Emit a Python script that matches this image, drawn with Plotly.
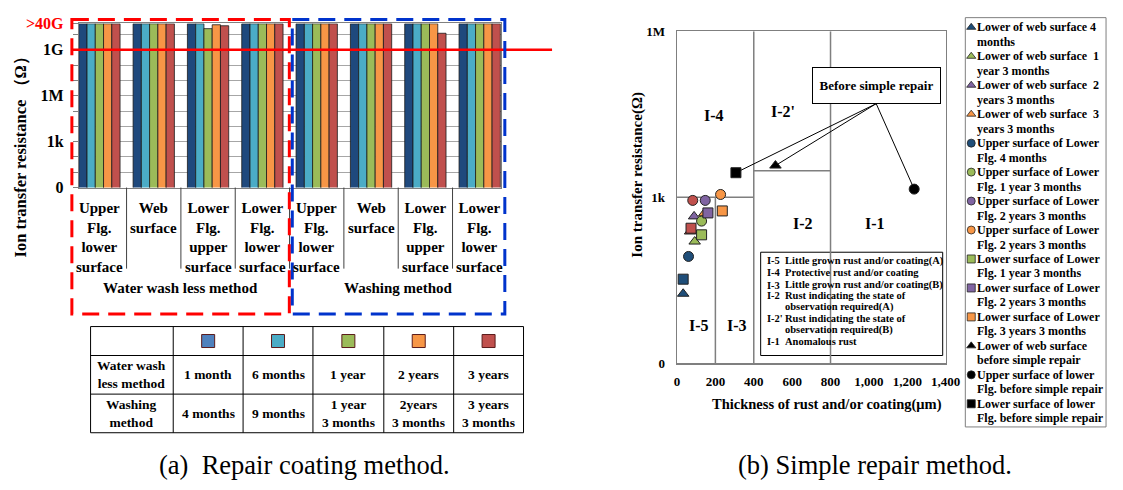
import plotly.graph_objects as go

# page-pixel layout helpers (figure pinned at the top-left of the 1123x490 page)
OX, OY = 0, 0
FW, FH = 1123, 490
SERIF = "Liberation Serif"


def fx(p):
    return min(max((p - OX) / FW, 0), 1)


def fy(p):
    return min(max(1 - (p - OY) / FH, 0), 1)


# ================= (a) Repair coating method =================
surfaces = ["Upper<br>Flg.<br>lower<br>surface", "Web<br>surface",
            "Lower<br>Flg.<br>upper<br>surface", "Lower<br>Flg.<br>lower<br>surface"]
methods = ["Water wash less method", "Washing method"]
group_labels = surfaces + surfaces
periods_wwl = ["1 month", "6 months", "1 year", "2 years", "3 years"]
periods_wash = ["4 months", "9 months", "1 year<br>3 months", "2years<br>3 months", "3 years<br>3 months"]
bar_colors = ["#1F497D", "#4BACC6", "#9BBB59", "#F79646", "#C0504D"]
swatch_colors = ["#4F81BD", "#4BACC6", "#9BBB59", "#F79646", "#C0504D"]
# Ion transfer resistance (ohm); 5e10 stands for ">40G" (off scale)
res_period1 = [5e10, 5e10, 5e10, 5e10, 5e10, 5e10, 5e10, 5e10]
res_period2 = [5e10, 5e10, 5e10, 5e10, 5e10, 5e10, 5e10, 5e10]
res_period3 = [5e10, 5e10, 2.4e10, 5e10, 5e10, 5e10, 5e10, 5e10]
res_period4 = [5e10, 5e10, 4.3e10, 5e10, 5e10, 5e10, 5e10, 5e10]
res_period5 = [5e10, 5e10, 3.7e10, 5e10, 5e10, 5e10, 1.2e10, 5e10]
res_by_period = [res_period1, res_period2, res_period3, res_period4, res_period5]
ytick_vals_a = [1, 1e1, 1e2, 1e3, 1e4, 1e5, 1e6, 1e7, 1e8, 1e9, 1e10, 10 ** 10.72]
ytick_text_a = ["0", "", "", "1k", "", "", "1M", "", "", "1G", "",
                '<span style="color:#FF0000">>40G</span>']
limit_line = 1e9

# ================= (b) Simple repair method =================
series_names = [
    "Lower of web surface 4<br>months",
    "Lower of web surface  1<br>year 3 months",
    "Lower of web surface  2<br>years 3 months",
    "Lower of web surface  3<br>years 3 months",
    "Upper surface of Lower<br>Flg. 4 months",
    "Upper surface of Lower<br>Flg. 1 year 3 months",
    "Upper surface of Lower<br>Flg. 2 years 3 months",
    "Upper surface of Lower<br>Flg. 2 years 3 months",
    "Lower surface of Lower<br>Flg. 1 year 3 months",
    "Lower surface of Lower<br>Flg. 2 years 3 months",
    "Lower surface of Lower<br>Flg. 3 years 3 months",
    "Lower of web surface<br>before simple repair",
    "Upper surface of lower<br>Flg. before simple repair",
    "Lower surface of lower<br>Flg. before simple repair",
]
series_symbols = ["triangle-up"] * 4 + ["circle"] * 4 + ["square"] * 3 + ["triangle-up", "circle", "square"]
series_colors = ["#1F4E79", "#9BBB59", "#8064A2", "#F79646",
                 "#1F4E79", "#9BBB59", "#8064A2", "#F79646",
                 "#9BBB59", "#8064A2", "#F79646",
                 "#000000", "#000000", "#000000"]
thickness = [32, 92, 89, 142, 60, 128, 147, 227, 128, 161, 236, 513, 1236, 307]      # um
resistance = [18, 158, 450, 510, 85, 370, 875, 1120, 209, 520, 565, 3730, 1400, 2770]  # ohm
# additional plotted points not listed in the legend
extra_symbols = ["triangle-up", "circle", "square", "square"]
extra_colors = ["#C0504D", "#C0504D", "#C0504D", "#1F4E79"]
extra_thickness = [68, 82, 73, 32]
extra_resistance = [240, 875, 275, 33]
before_repair_idx = [11, 12, 13]

# classification boundaries
v_lines = [(200, 1, 1000), (400, 1, 1e6), (800, 1, 1e6)]
h_lines = [(1000, 0, 400), (3000, 400, 800)]
zone_names = ["I-4", "I-2'", "I-2", "I-1", "I-5", "I-3"]
zone_x = [195, 554, 656, 1031, 113, 313]
zone_logy = [4.47, 4.55, 2.53, 2.53, 0.68, 0.68]
key_codes = ["I-5", "I-4", "I-3", "I-2", "", "I-2'", "", "I-1"]
key_texts = ["Little grown rust and/or coating(A)", "Protective rust and/or coating",
             "Little grown rust and/or coating(B)", "Rust indicating the state of",
             "observation required(A)", "Rust indicating the state of",
             "observation required(B)", "Anomalous rust"]

fig = go.Figure()

# ---- bars
for k in range(5):
    fig.add_trace(go.Bar(
        x=list(range(len(group_labels))), y=res_by_period[k],
        name=periods_wwl[k], marker=dict(color=bar_colors[k], line=dict(color="#1a1a1a", width=0.8)),
        xaxis="x", yaxis="y", showlegend=False))

# ---- scatter
for i in range(len(series_names)):
    fig.add_trace(go.Scatter(
        x=[thickness[i]], y=[resistance[i]], mode="markers", name=series_names[i],
        marker=dict(symbol=series_symbols[i], color=series_colors[i], size=10,
                    line=dict(color="#222222", width=1)),
        xaxis="x2", yaxis="y2", showlegend=False))
for j in range(len(extra_symbols)):
    fig.add_trace(go.Scatter(
        x=[extra_thickness[j]], y=[extra_resistance[j]], mode="markers",
        marker=dict(symbol=extra_symbols[j], color=extra_colors[j], size=10,
                    line=dict(color="#222222", width=1)),
        xaxis="x2", yaxis="y2", showlegend=False))

# ---- manual legend symbols (aux page-pixel axis)
leg_y = [20 + 30 * i for i in range(len(series_names))]
fig.add_trace(go.Scatter(
    x=[984] * len(series_names), y=leg_y, mode="markers",
    marker=dict(symbol=series_symbols, color=series_colors, size=8,
                line=dict(color="#222222", width=0.8)),
    xaxis="x3", yaxis="y3", showlegend=False, hoverinfo="skip"))

# ---- table swatches
tab_cols = [89, 173, 244, 315, 387, 458, 529]
tab_rows = [330, 360, 400, 440]
fig.add_trace(go.Scatter(
    x=[(tab_cols[j + 1] + tab_cols[j + 2]) / 2 for j in range(5)], y=[345] * 5, mode="markers",
    marker=dict(symbol="square", color=swatch_colors, size=13, line=dict(color="#5a1a1a", width=1)),
    xaxis="x3", yaxis="y3", showlegend=False, hoverinfo="skip"))

shapes = []
ann = []


def txt(x, y, text, size, bold=True, xanchor="center", yanchor="middle", **kw):
    d = dict(x=fx(x), y=fy(y), xref="paper", yref="paper", text=text, showarrow=False,
             xanchor=xanchor, yanchor=yanchor,
             font=dict(family=SERIF, size=size, weight="bold" if bold else "normal", color="black"))
    d.update(kw)
    return d


# ---- (a) decorations
for i in range(len(group_labels) - 1):
    shapes.append(dict(type="line", xref="x", yref="paper", x0=i + 0.5, x1=i + 0.5,
                       y0=fy(186), y1=fy(270), line=dict(color="#404040", width=1)))
for i, lab in enumerate(group_labels):
    ann.append(dict(x=i, y=fy(197), xref="x", yref="paper", text=lab, showarrow=False,
                    xanchor="center", yanchor="top",
                    font=dict(family=SERIF, size=15, weight="bold", color="black")))
for m, lab in enumerate(methods):
    ann.append(dict(x=1.5 + 4 * m, y=fy(290), xref="x", yref="paper", text=lab, showarrow=False,
                    xanchor="center", yanchor="middle",
                    font=dict(family=SERIF, size=15, weight="bold", color="black")))
shapes.append(dict(type="line", xref="paper", yref="y", x0=fx(70), x1=fx(558), y0=limit_line, y1=limit_line,
                   line=dict(color="#FF0000", width=2.5)))
shapes.append(dict(type="rect", xref="paper", yref="paper", x0=fx(70), x1=fx(291), y0=fy(12), y1=fy(317),
                   line=dict(color="#FF0000", width=3, dash="17px,9px")))
shapes.append(dict(type="rect", xref="paper", yref="paper", x0=fx(294), x1=fx(510), y0=fy(12), y1=fy(317),
                   line=dict(color="#0033CC", width=3, dash="17px,9px")))
ann.append(txt(18, 150, "Ion transfer resistance （Ω）", 16.5, textangle=-90))

# ---- table
for c in tab_cols:
    shapes.append(dict(type="line", xref="paper", yref="paper", x0=fx(c), x1=fx(c), y0=fy(tab_rows[0]),
                       y1=fy(tab_rows[-1]), line=dict(color="black", width=1)))
for r in tab_rows:
    shapes.append(dict(type="line", xref="paper", yref="paper", x0=fx(tab_cols[0]), x1=fx(tab_cols[-1]),
                       y0=fy(r), y1=fy(r), line=dict(color="black", width=1)))
tab_rows_text = [["Water wash<br>less method"] + periods_wwl, ["Washing<br>method"] + periods_wash]
for k, row in enumerate(tab_rows_text):
    yc = (tab_rows[k + 1] + tab_rows[k + 2]) / 2
    for j, t in enumerate(row):
        xc = (tab_cols[j] + tab_cols[j + 1]) / 2
        ann.append(txt(xc, yc, t, 13.5))

# ---- (b) decorations
for (xv, y0, y1) in v_lines:
    shapes.append(dict(type="line", xref="x2", yref="y2", x0=xv, x1=xv, y0=y0, y1=y1, layer="below",
                       line=dict(color="#7F7F7F", width=1.5)))
for (yv, x0, x1) in h_lines:
    shapes.append(dict(type="line", xref="x2", yref="y2", x0=x0, x1=x1, y0=yv, y1=yv, layer="below",
                       line=dict(color="#7F7F7F", width=1.5)))
for n, xz, yz in zip(zone_names, zone_x, zone_logy):
    ann.append(dict(x=xz, y=yz, xref="x2", yref="y2", text=n, showarrow=False,
                    xanchor="center", yanchor="middle",
                    font=dict(family=SERIF, size=16, weight="bold", color="black")))
box_x, box_bottom = 1038, 4.9e4
for i in before_repair_idx:
    shapes.append(dict(type="line", xref="x2", yref="y2", x0=box_x, y0=box_bottom, x1=thickness[i],
                       y1=resistance[i], layer="below", line=dict(color="black", width=1)))
ann.append(dict(x=box_x, y=5.01, xref="x2", yref="y2", text="Before simple repair", showarrow=False,
                xanchor="center", yanchor="middle",
                width=125, height=33, borderpad=1, bordercolor="black", borderwidth=1, bgcolor="white",
                font=dict(family=SERIF, size=13, weight="bold", color="black")))
# key box
shapes.append(dict(type="rect", xref="paper", yref="paper", x0=fx(770), x1=fx(955), y0=fy(253), y1=fy(360),
                   line=dict(color="black", width=1), fillcolor="white", layer="below"))
key_y = [262, 274, 287, 298, 310, 322, 334, 346]
for code, t, yk in zip(key_codes, key_texts, key_y):
    if code:
        ann.append(txt(775, yk, code, 10.5, xanchor="left", borderpad=0))
    ann.append(txt(794, yk, t, 10.5, xanchor="left", borderpad=0))
ann.append(txt(645, 173, "Ion transfer resistance(Ω)", 15, textangle=-90))
ann.append(txt(837, 411, "Thickness of rust and/or coating(μm)", 14.5))

# ---- manual legend (one annotation per text line)
shapes.append(dict(type="rect", xref="paper", yref="paper", x0=fx(978), x1=fx(1121), y0=fy(10), y1=fy(434),
                   line=dict(color="#7F7F7F", width=1)))
for i, nm in enumerate(series_names):
    for ln, part in enumerate(nm.split("<br>")):
        ann.append(txt(989, leg_y[i] + 15 * ln, part, 12, xanchor="left", borderpad=0))

# ---- captions
ann.append(txt(306, 473, "(a)  Repair coating method.", 26.5, bold=False))
ann.append(txt(886, 473, "(b) Simple repair method.", 26.5, bold=False))

fig.update_layout(
    width=FW, height=FH, margin=dict(l=0, r=0, t=0, b=0),
    paper_bgcolor="white", plot_bgcolor="rgba(0,0,0,0)",
    barmode="group", bargap=0.24, bargroupgap=0,
    showlegend=False,
    xaxis=dict(domain=[fx(77), fx(506)], range=[-0.38, 7.39], showticklabels=False, ticks="",
               showgrid=False, zeroline=False, showline=True, mirror=True, linecolor="#808080",
               linewidth=1, anchor="y"),
    yaxis=dict(domain=[fy(186), fy(16)], type="log", range=[0, 10.72], tickvals=ytick_vals_a,
               ticktext=ytick_text_a, ticks="outside", ticklen=5, tickcolor="#808080",
               showgrid=True, gridcolor="#A6A6A6", gridwidth=1, showline=True, mirror=True,
               linecolor="#808080", linewidth=1, anchor="x", ticklabelstandoff=6,
               tickfont=dict(family=SERIF, size=16, weight="bold", color="black")),
    xaxis2=dict(domain=[fx(685), fx(958)], range=[0, 1400], tickvals=[0, 200, 400, 600, 800, 1000, 1200, 1400],
                tickformat=",", showgrid=False, zeroline=False, showline=True, mirror=True,
                linecolor="#7F7F7F", linewidth=1.5, anchor="y2", ticks="", ticklabelstandoff=6,
                tickfont=dict(family=SERIF, size=13, weight="bold", color="black")),
    yaxis2=dict(domain=[fy(368), fy(24)], type="log", range=[0, 6], tickvals=[1, 1e3, 1e6],
                ticktext=["0", "1k", "1M"], showgrid=False, zeroline=False, showline=True, mirror=True,
                linecolor="#7F7F7F", linewidth=1.5, anchor="x2", ticks="", ticklabelstandoff=8,
                tickfont=dict(family=SERIF, size=13, weight="bold", color="black")),
    xaxis3=dict(domain=[0, 1], range=[OX, OX + FW], visible=False, anchor="y3"),
    yaxis3=dict(domain=[0, 1], range=[OY + FH, OY], visible=False, anchor="x3"),
    shapes=shapes, annotations=ann,
)

pin_page = ("var d=document.getElementById('{plot_id}');"
            "d.style.position='fixed';d.style.left='0px';d.style.top='0px';"
            "document.body.style.margin='0';document.body.style.overflow='hidden';")
fig.write_html("out.html", config={"displayModeBar": False, "staticPlot": True}, post_script=pin_page)
